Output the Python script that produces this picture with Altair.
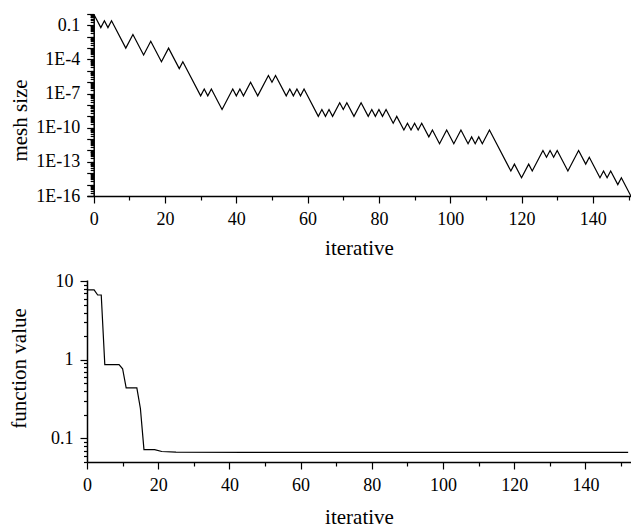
import altair as alt
import pandas as pd

# ---- data ----
# top panel: mesh size (vertices of the zig-zag), log10 of mesh size
mesh_iter = [0, 2, 3, 4, 5, 9, 11, 14, 16, 19, 21, 24, 25, 30, 31, 32, 33, 36, 39, 40,
             41, 42, 44, 46, 49, 50, 51, 54, 55, 56, 57, 58, 59, 63, 64, 65, 66, 67, 69, 70,
             71, 73, 75, 77, 78, 79, 80, 81, 82, 84, 85, 87, 88, 89, 90, 91, 92, 94, 95, 97,
             99, 101, 103, 105, 106, 107, 108, 109, 111, 117, 118, 120, 122, 123, 126, 127,
             128, 129, 130, 133, 136, 138, 139, 142, 143, 144, 145, 147, 148, 151, 152]
mesh_log10 = [0.0, -1.2, -0.6, -1.2, -0.6, -3.0, -1.8, -3.6, -2.4, -4.2, -3.0, -4.8, -4.2, -7.2, -6.6, -7.2, -6.6, -8.4, -6.6, -7.2,
              -6.6, -7.2, -6.0, -7.2, -5.4, -6.0, -5.4, -7.2, -6.6, -7.2, -6.6, -7.2, -6.6, -9.0, -8.4, -9.0, -8.4, -9.0, -7.8, -8.4,
              -7.8, -9.0, -7.8, -9.0, -8.4, -9.0, -8.4, -9.0, -8.4, -9.6, -9.0, -10.2, -9.6, -10.2, -9.6, -10.2, -9.6, -10.8, -10.2, -11.4,
              -10.2, -11.4, -10.2, -11.4, -10.8, -11.4, -10.8, -11.4, -10.2, -13.8, -13.2, -14.4, -13.2, -13.8, -12.0, -12.6,
              -12.0, -12.6, -12.0, -13.8, -12.0, -13.2, -12.6, -14.4, -13.8, -14.4, -13.8, -15.0, -14.4, -16.2, -15.6]

# bottom panel: function value
func_iter = [0, 2, 3, 4, 5, 9, 10, 11, 14, 15, 16, 19, 21, 25, 45, 152]
func_value = [7.8, 7.8, 6.7, 6.7, 0.87, 0.87, 0.77, 0.44, 0.44, 0.24, 0.072, 0.072,
              0.068, 0.0667, 0.0665, 0.0664]

# axis tick positions
x_ticks = list(range(0, 151, 10))
mesh_ticks = [m * 10.0 ** e for e in range(-16, 1) for m in range(1, 10) if m * 10.0 ** e <= 1.0001]
func_ticks = [m * 10.0 ** e for e in (-2, -1, 0, 1) for m in range(1, 10)
              if 0.0499 <= m * 10.0 ** e <= 10.01]

mesh_df = pd.DataFrame({"iter": mesh_iter, "mesh": [10.0 ** v for v in mesh_log10]})
func_df = pd.DataFrame({"iter": func_iter, "value": func_value})

FONT = "Liberation Serif"
LS, TS = 18, 21
E = "round(log(datum.value)/LN10)"
DEC = f"abs(log(datum.value)/LN10 - {E}) < 0.001"
TOP_SHOW = f"({DEC}) && (({E} + 16) % 3 == 0)"
X_SHOW = "datum.value % 20 == 0"


def x_axis(tp):
    return alt.Axis(
        values=x_ticks,
        labelExpr=f"{X_SHOW} ? format(datum.value, 'd') : ''",
        labelFontSize={"condition": {"test": X_SHOW, "value": LS}, "value": 0},
        tickSize={"condition": {"test": X_SHOW, "value": 7}, "value": 4},
        title="iterative",
        titlePadding=tp,
    )


top = alt.Chart(mesh_df).mark_line(color="black", strokeWidth=1.2, clip=True).encode(
    x=alt.X("iter:Q",
            scale=alt.Scale(domain=[-1.88, 150.7], nice=False, zero=False),
            axis=x_axis(9.5)),
    y=alt.Y("mesh:Q",
            scale=alt.Scale(type="log", domain=[1e-16, 1], nice=False),
            axis=alt.Axis(
                values=mesh_ticks,
                labelExpr=f"({TOP_SHOW}) ? ({E} == -1 ? '0.1' : '1E' + {E}) : ''",
                labelFontSize={"condition": {"test": TOP_SHOW, "value": LS}, "value": 0},
                tickSize={"condition": {"test": DEC, "value": 7}, "value": 3.5},
                offset=-6.7,
                title="mesh size",
                titlePadding=5.7,
                titleY=106,
            )),
).properties(width=544, height=182)

bottom = alt.Chart(func_df).mark_line(color="black", strokeWidth=1.2).encode(
    x=alt.X("iter:Q",
            scale=alt.Scale(domain=[0, 152.8], nice=False, zero=False),
            axis=x_axis(12)),
    y=alt.Y("value:Q",
            scale=alt.Scale(type="log", domain=[0.05, 10.4], nice=False),
            axis=alt.Axis(
                values=func_ticks,
                labelExpr=f"({DEC}) ? (datum.value > 5 ? '10' : (datum.value > 0.5 ? '1' : '0.1')) : ''",
                labelFontSize={"condition": {"test": DEC, "value": LS}, "value": 0},
                tickSize={"condition": {"test": DEC, "value": 7}, "value": 3.5},
                title="function value",
                titlePadding=20.7,
                titleY=88,
            )),
).properties(width=544, height=182)

chart = alt.vconcat(top, bottom, spacing=13).properties(
    padding={"left": 0, "top": 5, "right": 0, "bottom": 0}
).configure_view(stroke=None).configure_axis(
    labelFont=FONT, titleFont=FONT, titleFontSize=TS,
    titleFontWeight="normal", labelColor="black", titleColor="black",
    domainColor="black", tickColor="black", domainWidth=1.5, tickWidth=1.2,
    labelPadding=7, grid=False, labelFlush=False, labelOverlap=False,
    labelBound=False,
)

chart.save("out.html", embed_options={"renderer": "svg", "actions": False})
